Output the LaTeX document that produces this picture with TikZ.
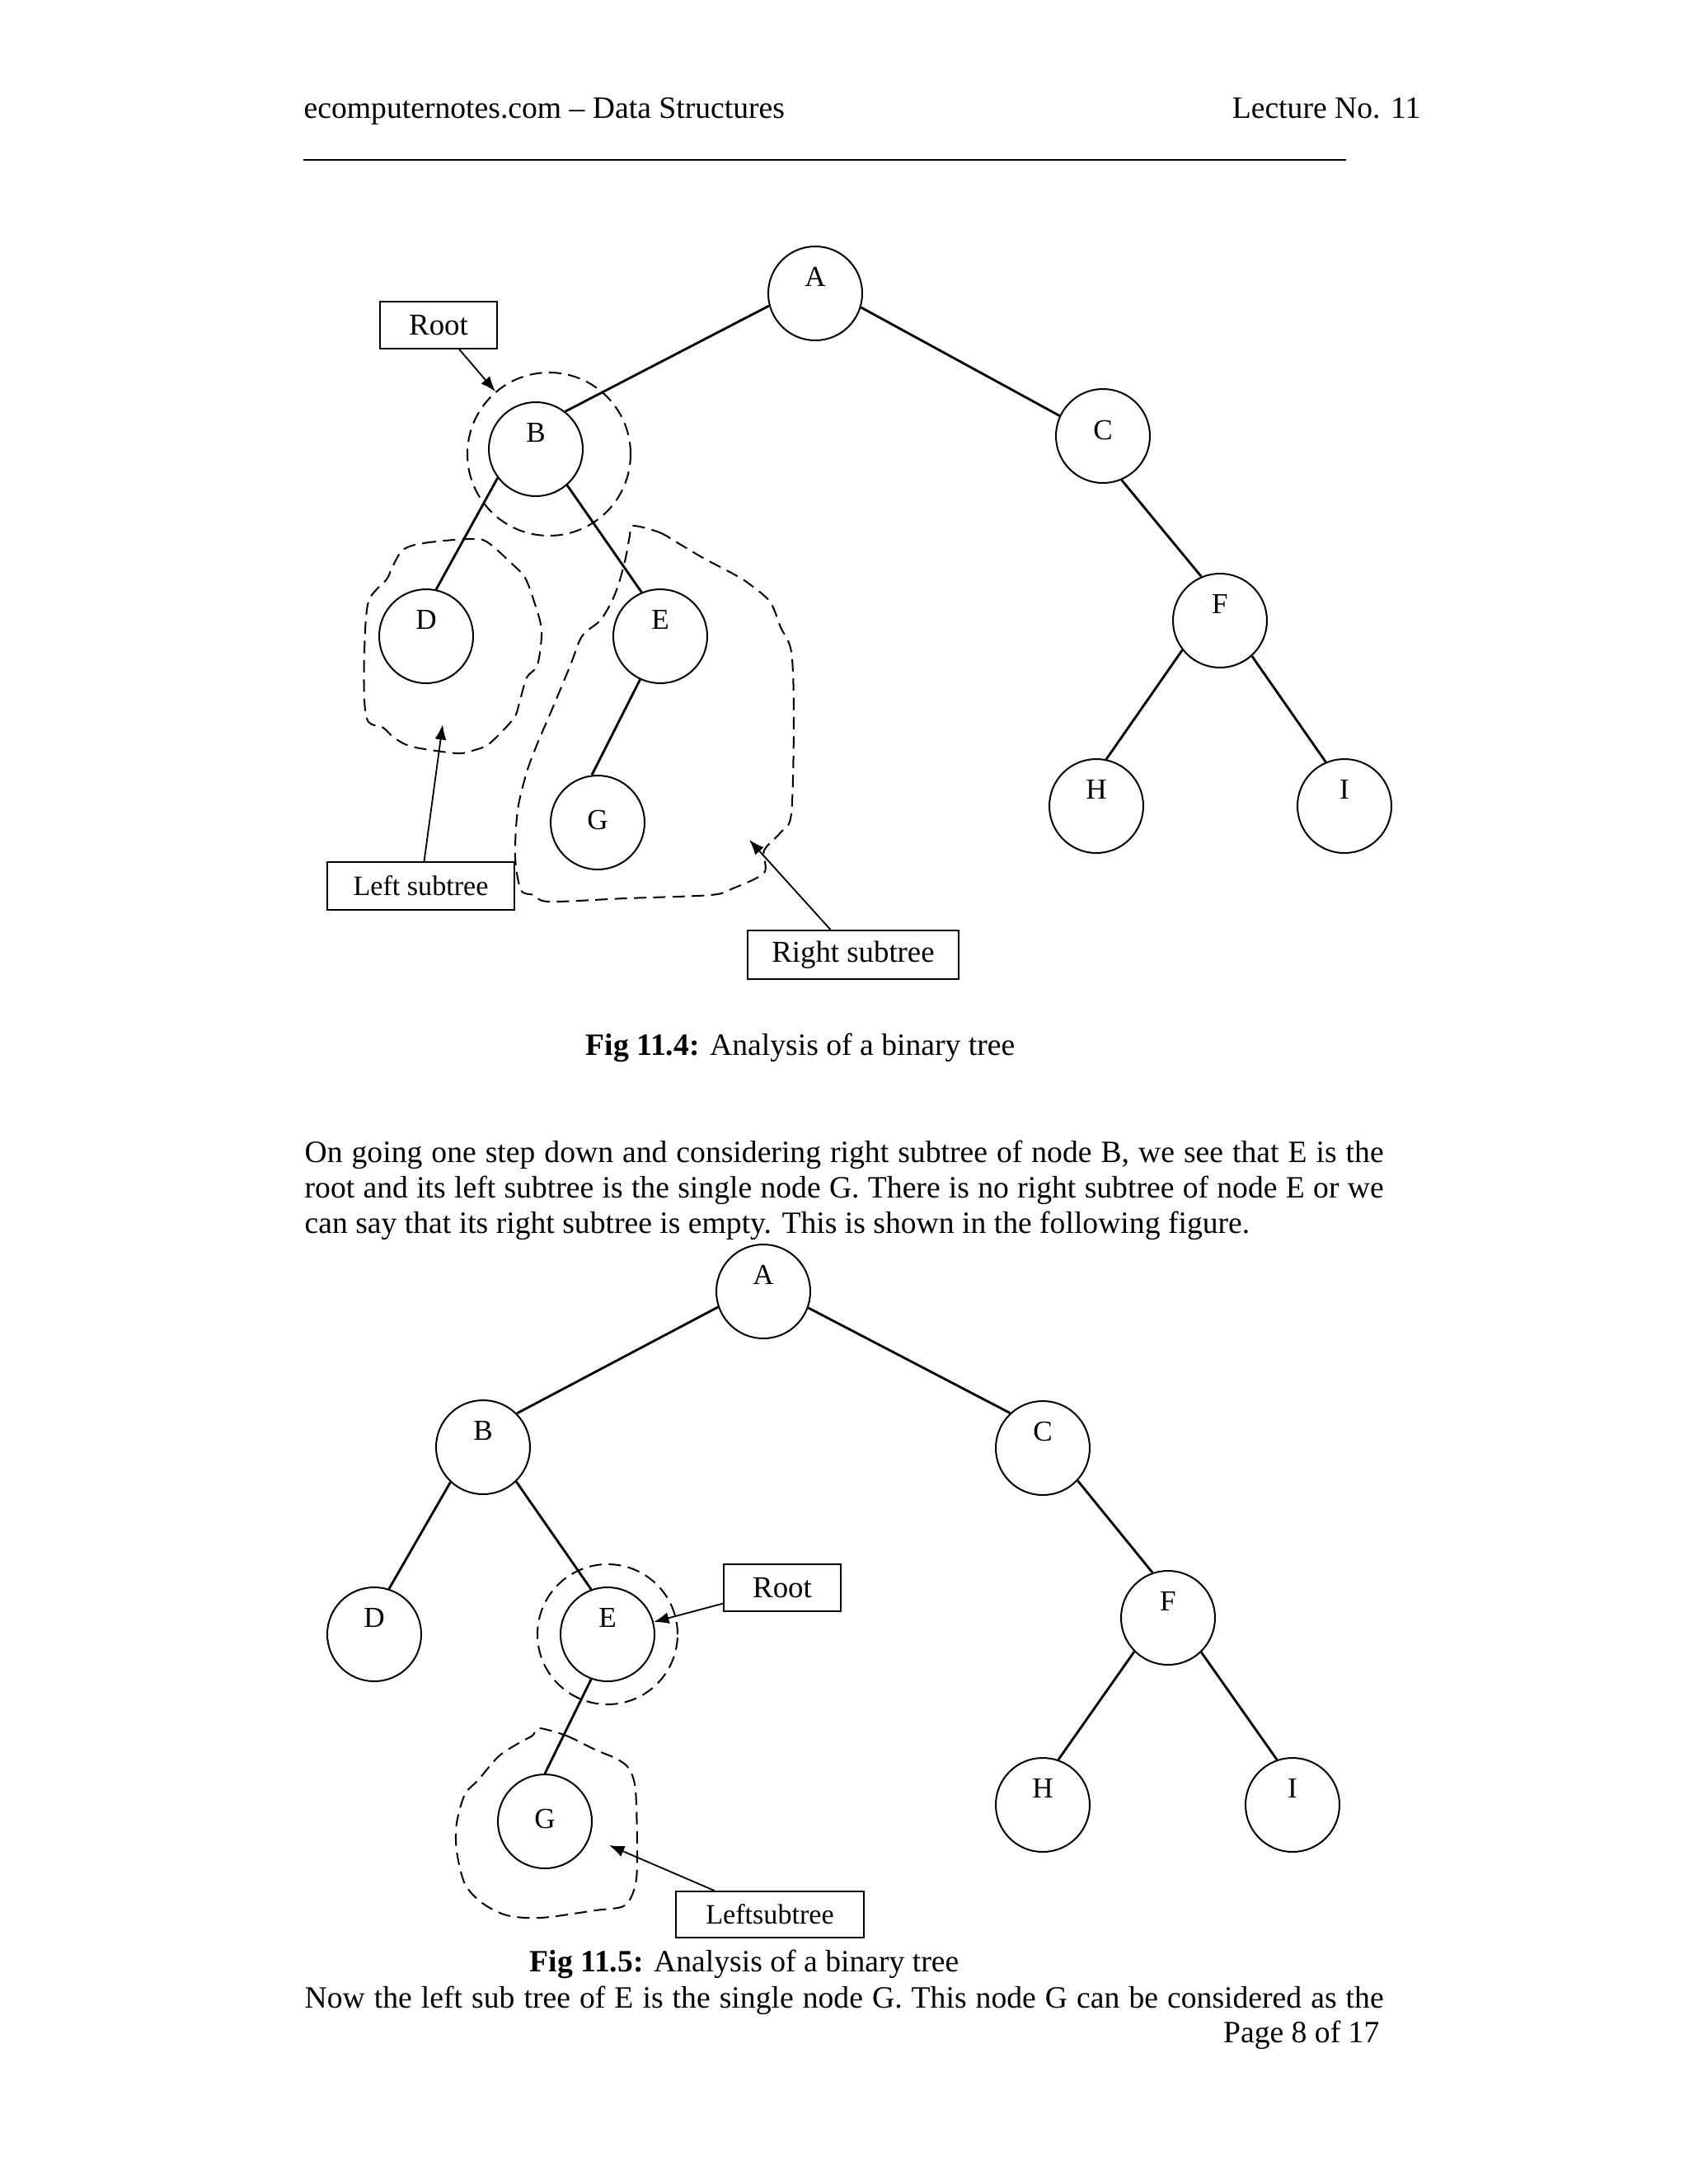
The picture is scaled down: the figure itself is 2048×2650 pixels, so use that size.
\documentclass[tikz,border=0pt]{standalone}
\usepackage{fontspec}
\setmainfont{Liberation Serif}
\usepackage{tikz}
\usetikzlibrary{arrows.meta}

\begin{document}
\begin{tikzpicture}[
  x=0.29886pt, y=-0.29886pt,
  vtx/.style={draw, circle, line width=0.6pt, inner sep=0pt,
              minimum size=34.07pt},
  lab/.style={font=\fontsize{10.5}{12}\selectfont, yshift=6pt, inner sep=0pt},
  link/.style={line width=0.85pt},
  ring/.style={draw, circle, dash pattern=on 4.5pt off 2.5pt,
               line width=0.6pt, inner sep=0pt},
  blob/.style={dash pattern=on 4.5pt off 2.5pt, line width=0.6pt},
  tag/.style={draw, line width=0.6pt, inner sep=0pt,
              font=\fontsize{11}{13}\selectfont},
  arrow/.style={-{Latex[length=5.5pt,width=4.2pt]}, line width=0.55pt},
  txt/.style={inner sep=0pt, font=\fontsize{11.25}{12.94}\selectfont},
]
  \useasboundingbox (0,0) rectangle (2048,2650);

  % page header
  \node[txt, anchor=base west] (hdl) at (368,143) {ecomputernotes.com -- Data Structures};
  \node[txt, anchor=base east] (hdr) at (1724,143) {Lecture No. 11};
  \draw[line width=0.75pt] (368,194) -- (1633,194);

  % Fig 11.4
  \node[vtx, label={[lab]center:A}] (a1) at (989,356) {};
  \node[vtx, label={[lab]center:B}] (b1) at (650,545) {};
  \node[vtx, label={[lab, yshift=-4pt]center:C}] (c1) at (1338,529) {};
  \node[vtx, label={[lab]center:D}] (d1) at (517,772) {};
  \node[vtx, label={[lab]center:E}] (e1) at (801,772) {};
  \node[vtx, label={[lab]center:F}] (f1) at (1480,753) {};
  \node[vtx, label={[lab, yshift=-5pt]center:G}] (g1) at (725,998) {};
  \node[vtx, label={[lab]center:H}] (h1) at (1330,978) {};
  \node[vtx, label={[lab]center:I}] (i1) at (1631,978) {};

  \draw[link] (a1.-165) -- (b1.52);
  \draw[link] (a1.-17) -- (c1.155);
  \draw[link] (b1.-143) -- (d1.78);
  \draw[link] (b1.-49) -- (e1.113);
  \draw[link] (e1.-115) -- (g1.97);
  \draw[link] (c1.-67) -- (f1.113);
  \draw[link] (f1.-142) -- (h1.78);
  \draw[link] (f1.-48) -- (i1.113);

  \node[ring, minimum size=59.17pt] (bring1) at (666,551) {};
  \draw[blob] plot[smooth cycle, tension=0.5] coordinates {
    (489,667) (514,659) (567,654) (590,657) (621,684) (637,701) (648,730)
    (657,765) (652,807) (639,822) (630,853) (623,872) (594,902) (576,910)
    (554,914) (500,906) (478,895) (465,883) (447,876) (442,849) (442,791)
    (447,730) (469,703) (476,688)};
  \draw[blob] plot[smooth cycle, tension=0.5] coordinates {
    (768,638) (800,646) (826,661) (853,677) (889,696) (907,707) (934,730)
    (947,761) (960,791) (963,868) (960,987) (947,1010) (927,1032) (927,1059)
    (889,1078) (862,1086) (759,1090) (666,1094) (648,1086) (632,1080)
    (625,1040) (628,983) (639,937) (652,902) (670,860) (692,807) (706,772)
    (728,753) (742,730) (751,707) (759,677) (764,650)};

  \node[tag, minimum width=42.44pt, minimum height=17.03pt] (root1) at (532,394.5) {Root};
  \node[tag, minimum width=67.84pt, minimum height=17.33pt,
        font=\fontsize{10.2}{12}\selectfont] (lsub1) at (510.5,1075) {Left subtree};
  \node[tag, minimum width=76.51pt, minimum height=17.63pt] (rsub1) at (1035,1158.5) {Right subtree};
  \coordinate (ltip1) at (537,879);
  \coordinate (rtip1) at (909,1019);
  \draw[arrow] (root1) -- (bring1);
  \draw[arrow] (lsub1) -- (ltip1);
  \draw[arrow] (rsub1) -- (rtip1);

  \node[txt, anchor=base west] (cap1) at (710,1280) {\textbf{Fig 11.4:} Analysis of a binary tree};

  % text between the figures
  \node[txt, anchor=base west, text width=391.2pt, align=justify] (para) at (369,1410) {On going one step down and considering right subtree of node B, we see that E is the\linebreak
    root and its left subtree is the single node G. There is no right subtree of node E or we\linebreak
    can say that its right subtree is empty. This is shown in the following figure.};

  % Fig 11.5
  \node[vtx, label={[lab]center:A}] (a2) at (926,1567) {};
  \node[vtx, label={[lab]center:B}] (b2) at (586,1756) {};
  \node[vtx, label={[lab]center:C}] (c2) at (1265,1757) {};
  \node[vtx, label={[lab]center:D}] (d2) at (454,1983) {};
  \node[vtx, label={[lab]center:E}] (e2) at (737,1983) {};
  \node[vtx, label={[lab]center:F}] (f2) at (1417,1963) {};
  \node[vtx, label={[lab, yshift=-5pt]center:G}] (g2) at (661,2210) {};
  \node[vtx, label={[lab]center:H}] (h2) at (1265,2190) {};
  \node[vtx, label={[lab]center:I}] (i2) at (1568,2190) {};

  \draw[link] (a2.-161) -- (b2.45);
  \draw[link] (a2.-20) -- (c2.133);
  \draw[link] (b2.-133) -- (d2.72);
  \draw[link] (b2.-46) -- (e2.110);
  \draw[link] (e2.-110) -- (g2.90);
  \draw[link] (c2.-43) -- (f2.109);
  \draw[link] (f2.-135) -- (h2.71);
  \draw[link] (f2.-46) -- (i2.109);

  \node[ring, minimum size=50.81pt] (ering2) at (737,1983) {};
  \draw[blob] plot[smooth cycle, tension=0.5] coordinates {
    (654,2097) (687,2106) (722,2123) (748,2134) (763,2146) (771,2172)
    (773,2246) (771,2286) (758,2312) (722,2318) (656,2327) (615,2324)
    (585,2309) (564,2286) (554,2246) (554,2212) (564,2177) (580,2160)
    (605,2131) (631,2114) (646,2106)};

  \node[tag, minimum width=42.44pt, minimum height=17.03pt] (root2) at (949,1926.5) {Root};
  \node[tag, minimum width=68.14pt, minimum height=16.74pt,
        font=\fontsize{10.2}{12}\selectfont] (lsub2) at (934,2323) {Leftsubtree};
  \coordinate (gtip2) at (739,2239);
  \draw[arrow] (root2) -- (e2);
  \draw[arrow] (lsub2) -- (gtip2);

  \node[txt, anchor=base west] (cap2) at (642,2392) {\textbf{Fig 11.5:} Analysis of a binary tree};

  % page foot
  \node[txt, anchor=base west] (last) at (369,2436) {\makebox[391.2pt][s]{Now the left sub tree of E is the single node G. This node G can be considered as the}};
  \node[txt, anchor=base east] (pg) at (1674,2478) {Page 8 of 17};

\end{tikzpicture}
\end{document}
